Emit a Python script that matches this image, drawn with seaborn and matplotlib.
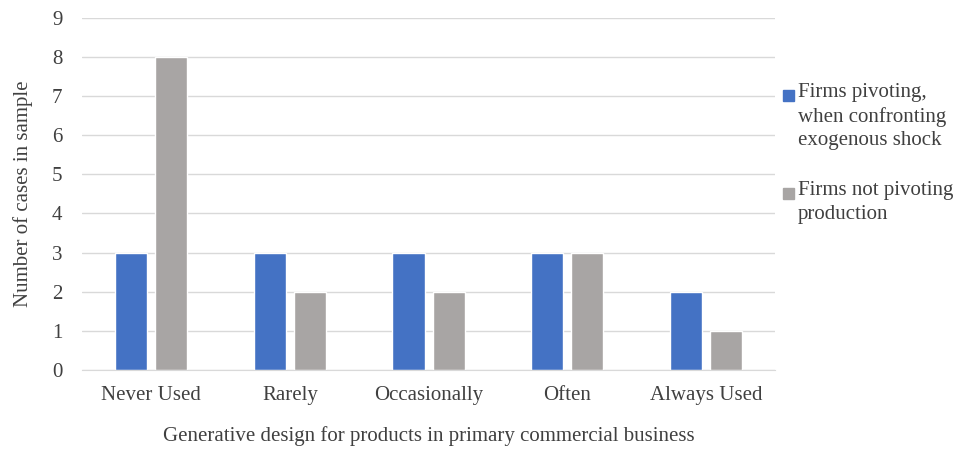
import pandas as pd
import matplotlib
matplotlib.use('Agg')
import matplotlib.pyplot as plt
from matplotlib.patches import Rectangle
import seaborn as sns

categories = ['Never Used', 'Rarely', 'Occasionally', 'Often', 'Always Used']
pivoting = [3, 3, 3, 3, 2]
not_pivoting = [8, 2, 2, 3, 1]
series_names = ['Firms pivoting,\nwhen confronting\nexogenous shock',
                'Firms not pivoting\nproduction']
colors = ['#4472C4', '#A8A5A4']

sns.set_style('white')
plt.rcParams['font.family'] = ['Liberation Serif', 'DejaVu Serif']

df = pd.DataFrame({
    'category': categories * 2,
    'count': pivoting + not_pivoting,
    'series': [series_names[0]] * 5 + [series_names[1]] * 5,
})

fig = plt.figure(figsize=(9.6, 4.51), dpi=100)
ax = fig.add_axes([0.0854, 0.18, 0.722, 0.78])

sns.barplot(data=df, x='category', y='count', hue='series', palette=colors,
            width=0.58, gap=0.2, saturation=1, ax=ax, legend=False)

ax.set_ylim(0, 9)
ax.set_yticks(range(0, 10))
ax.set_xlim(-0.5, 4.5)
ax.yaxis.grid(True, color='#D9D9D9', linewidth=1)
ax.set_axisbelow(True)
for s in ['top', 'right', 'left']:
    ax.spines[s].set_visible(False)
ax.spines['bottom'].set_color('#D9D9D9')
ax.tick_params(axis='x', length=0, labelsize=15, colors='#404040', pad=12)
ax.tick_params(axis='y', length=0, labelsize=15, colors='#404040', pad=14)
ax.set_xlabel('Generative design for products in primary commercial business',
              fontsize=15, color='#404040', labelpad=15)
ax.set_ylabel('Number of cases in sample', fontsize=15, color='#404040', labelpad=14)

# legend: square aligned with the first line of each label
legend_tops = [0.815, 0.598]
for name, c, top in zip(series_names, colors, legend_tops):
    fig.patches.append(Rectangle((0.8155, top - 0.040), 0.0115, 0.0245,
                                 transform=fig.transFigure, color=c))
    fig.text(0.831, top, name, fontsize=15, color='#404040', va='top',
             ha='left', linespacing=1.3)

plt.savefig('out.png', dpi=100)
